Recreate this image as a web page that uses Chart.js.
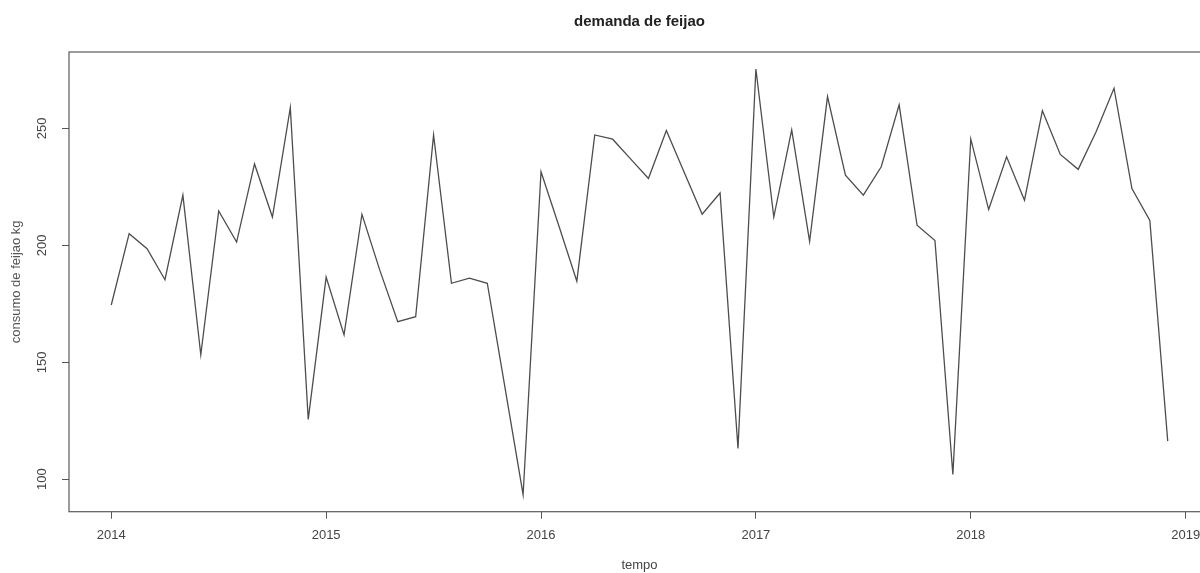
<!DOCTYPE html>
<html>
<head>
<meta charset="utf-8">
<title>demanda de feijao</title>
<script src="https://cdn.jsdelivr.net/npm/chart.js@4/dist/chart.umd.min.js"></script>
<style>
  html, body { margin: 0; padding: 0; background: #fff; }
  #wrap { width: 1200px; height: 573px; overflow: hidden; position: relative; }
  canvas { display: block; }
</style>
</head>
<body>
<div id="wrap"><canvas id="c" width="1240" height="573"></canvas></div>
<script>
// Monthly series, January 2014 to December 2018 (kg)
const startYear = 2014;
const consumo = [
  174.5, 205.0, 198.6, 185.3, 221.5, 153.2, 214.7, 201.4, 234.8, 212.1, 258.9, 125.6,
  186.4, 161.7, 213.3, 189.3, 167.4, 169.5, 247.2, 183.8, 186.0, 183.8, 138.6, 93.4,
  231.5, 208.3, 184.7, 247.2, 245.4, 237.0, 228.6, 249.1, 231.2, 213.3, 222.4, 113.2,
  275.4, 212.1, 249.4, 201.7, 263.6, 230.0, 221.5, 233.6, 260.1, 208.6, 202.1, 102.0,
  245.5, 215.3, 237.9, 219.3, 257.6, 238.9, 232.5, 248.6, 267.2, 224.3, 210.7, 116.3
];
const yearTicks = [2014, 2015, 2016, 2017, 2018, 2019];
const valueTicks = [100, 150, 200, 250];

const titulo = 'demanda de feijao';
const rotuloX = 'tempo';
const rotuloY = 'consumo de feijao kg';

// time value of each observation: year + month/12
const pontos = consumo.map((v, i) => ({ x: startYear + i / 12, y: v }));

// axis limits padded by 4% of the data range on each side
const xFirst = startYear, xLast = startYear + (consumo.length - 1) / 12;
const yLow = Math.min(...consumo), yHigh = Math.max(...consumo);
const xPad = (xLast - xFirst) * 0.04, yPad = (yHigh - yLow) * 0.04;

const FONT = 'Liberation Sans, Arial, Helvetica, sans-serif';
const AXIS_GRAY = '#555';

// box drawn around the plotting region
const frameBox = {
  id: 'frameBox',
  afterDatasetsDraw(chart) {
    const { ctx, chartArea: a } = chart;
    ctx.save();
    ctx.strokeStyle = '#5a5a5a';
    ctx.lineWidth = 1.2;
    ctx.strokeRect(a.left, a.top, a.right - a.left, a.bottom - a.top);
    ctx.restore();
  }
};

new Chart(document.getElementById('c'), {
  type: 'line',
  data: {
    datasets: [{
      data: pontos,
      borderColor: '#4d4d4d',
      borderWidth: 1.3,
      pointRadius: 0,
      tension: 0,
      fill: false
    }]
  },
  options: {
    responsive: false,
    animation: false,
    devicePixelRatio: 1,
    layout: { padding: { left: 0, right: 30, top: 0, bottom: 0 } },
    plugins: {
      legend: { display: false },
      tooltip: { enabled: false },
      title: {
        display: true,
        text: titulo,
        fullSize: false,
        color: '#222',
        font: { family: FONT, size: 15, weight: 'bold', lineHeight: 1.2 },
        padding: { top: 13, bottom: 21 }
      }
    },
    scales: {
      x: {
        type: 'linear',
        min: xFirst - xPad,
        max: xLast + xPad,
        afterBuildTicks(scale) { scale.ticks = yearTicks.map(v => ({ value: v })); },
        afterFit(scale) { scale.height = 61.3; },
        border: { display: false },
        grid: { drawOnChartArea: false, drawTicks: true, tickLength: 7, color: AXIS_GRAY, lineWidth: 1 },
        ticks: {
          color: '#444',
          font: { family: FONT, size: 13 },
          padding: 9,
          maxRotation: 0,
          autoSkip: false,
          callback: v => String(v)
        },
        title: {
          display: true,
          text: rotuloX,
          color: '#444',
          font: { family: FONT, size: 13, lineHeight: 1.2 },
          padding: { top: 0, bottom: 0 }
        }
      },
      y: {
        type: 'linear',
        min: yLow - yPad,
        max: yHigh + yPad,
        afterBuildTicks(scale) { scale.ticks = valueTicks.map(v => ({ value: v })); },
        afterFit(scale) { scale.width = 69; },
        border: { display: false },
        grid: { drawOnChartArea: false, drawTicks: true, tickLength: 7, color: AXIS_GRAY, lineWidth: 1 },
        ticks: {
          color: '#444',
          font: { family: FONT, size: 13 },
          padding: 9,
          minRotation: 90,
          maxRotation: 90,
          crossAlign: 'center',
          autoSkip: false,
          callback: v => String(v)
        },
        title: {
          display: true,
          text: rotuloY,
          color: '#555',
          font: { family: FONT, size: 13, lineHeight: 1.2 },
          padding: { top: 9, bottom: 0 }
        }
      }
    }
  },
  plugins: [frameBox]
});
</script>
</body>
</html>
